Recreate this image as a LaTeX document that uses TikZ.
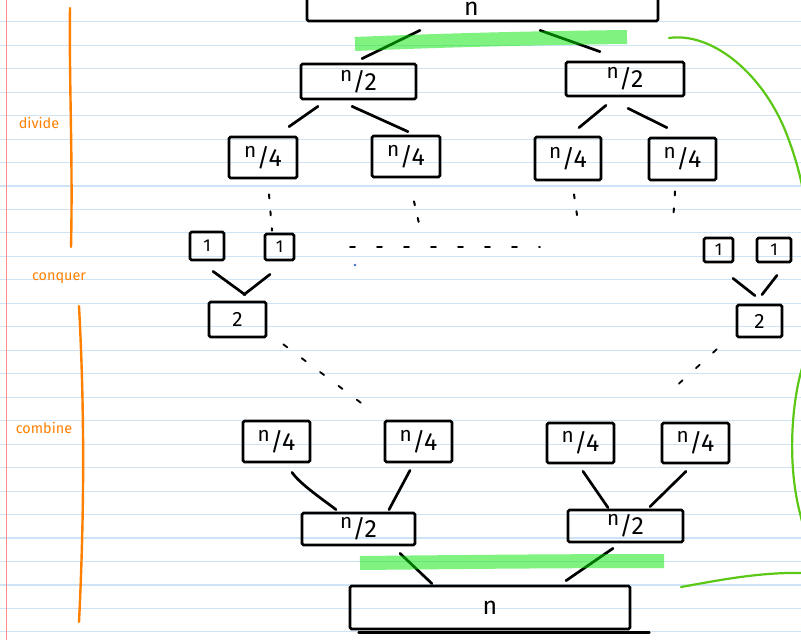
\documentclass[tikz,border=0pt]{standalone}
\usepackage{fontspec}
\setmainfont{Fira Sans}
\usetikzlibrary{calc}
\definecolor{ruleblue}{RGB}{206,228,246}
\definecolor{marginred}{RGB}{255,140,140}
\definecolor{hl}{RGB}{0,230,0}
\definecolor{bracegreen}{RGB}{90,200,20}
\definecolor{orng}{RGB}{255,128,0}
\definecolor{dotblue}{RGB}{60,110,200}
\newcommand{\myfrac}[2]{\textsuperscript{#1}/#2}
\tikzset{
  box/.style={draw=black, line width=2.7pt, rounded corners=1.5pt, inner sep=0pt, font=\Huge},
  conn/.style={line width=2.7pt, line cap=round},
  dotsv/.style={line width=2pt, line cap=round, dash pattern=on 4pt off 13pt},
  dotsh/.style={line width=1.8pt, line cap=round, dash pattern=on 5pt off 22pt},
  dotsd/.style={line width=1.8pt, line cap=round, dash pattern=on 5pt off 18pt},
  hilite/.style={line width=14pt, hl, opacity=0.5},
  tag/.style={text=orng, font=\Large},
  orline/.style={orng, line width=2.4pt, line cap=round},
  bracel/.style={bracegreen, line width=2.2pt, line cap=round},
}
\begin{document}
\begin{tikzpicture}[x=1pt,y=-1pt]
\useasboundingbox (0,0) rectangle (801,640);
\clip (0,0) rectangle (801,640);
\fill[white] (0,0) rectangle (801,640);
% ruled paper
\foreach \k in {0,...,26}{
  \draw[ruleblue, line width=1.1pt] (0,{21.7+23.47*\k}) -- (801,{21.7+23.47*\k});
}
\draw[marginred, line width=1.2pt] (6.5,0) -- (6.5,640);

% orange margin notes
\draw[orline] (70,8) .. controls (69,80) and (73,160) .. (71,247);
\draw[orline] (79,306) .. controls (84,400) and (85,500) .. (79,622);
\node[tag] (tdiv) at (39,123) {divide};
\node[tag] (tcon) at (59,278) {conquer};
\node[tag] (tcom) at (44,428) {combine};

% divide part
\node[box, minimum width=351pt, minimum height=24pt] (nTop) at (482.5,9) {n\hspace*{22pt}};
\node[box, minimum width=115pt, minimum height=35pt] (h1) at (358.5,81.5) {\myfrac{n}{2}};
\node[box, minimum width=118pt, minimum height=34pt] (h2) at (625,79) {\myfrac{n}{2}};
\node[box, minimum width=68pt, minimum height=41pt] (q1) at (263,157.5) {\myfrac{n}{4}};
\node[box, minimum width=68pt, minimum height=41pt] (q2) at (406,156.5) {\myfrac{n}{4}};
\node[box, minimum width=66pt, minimum height=43pt] (q3) at (568,158.5) {\myfrac{n}{4}};
\node[box, minimum width=67pt, minimum height=42pt] (q4) at (682.5,159) {\myfrac{n}{4}};

\draw[conn] ([shift={(-62.5,8)}]nTop.south) -- ([shift={(3.5,-4)}]h1.north);
\draw[conn] ([shift={(57.5,8)}]nTop.south) -- ([shift={(-25,-9)}]h2.north);
\draw[conn] ([shift={(-40.5,6)}]h1.south) -- ([shift={(26,-9)}]q1.north);
\draw[conn] ([shift={(-6.5,6)}]h1.south) -- ([shift={(2,-3)}]q2.north);
\draw[conn] ([shift={(-19,8)}]h2.south) -- ([shift={(11,-8)}]q3.north);
\draw[conn] ([shift={(3,11)}]h2.south) -- ([shift={(-15.5,-9)}]q4.north);

% conquer part
\node[box, font=\LARGE, minimum width=34pt, minimum height=28pt] (o1) at (207,246) {1};
\node[box, font=\LARGE, minimum width=29pt, minimum height=26pt] (o2) at (279.5,247) {1};
\node[box, font=\LARGE, minimum width=29pt, minimum height=24pt] (o3) at (718.5,250) {1};
\node[box, font=\LARGE, minimum width=34pt, minimum height=24pt] (o4) at (774,250) {1};
\node[box, font=\huge, minimum width=57pt, minimum height=35pt] (t1) at (237.5,319.5) {2};
\node[box, font=\huge, minimum width=45pt, minimum height=32pt] (t2) at (759.5,321) {2};

\coordinate (e2) at (420,228);
\coordinate (e3) at (578,222);
\coordinate (e4) at (673,222);
\coordinate (hs) at (350,247);
\coordinate (he) at (540,247);
\draw[dotsv] ([shift={(6,15)}]q1.south) -- ([shift={(-7.5,-2)}]o2.north);
\draw[dotsv] ([shift={(8,23)}]q2.south) -- (e2);
\draw[dotsv] ([shift={(6,13)}]q3.south) -- (e3);
\draw[dotsv] ([shift={(-7.5,10)}]q4.south) -- (e4);
\draw[dotsh] (hs) -- (he);
\fill[dotblue] (355,265) circle (1.4pt);

\draw[conn] ([shift={(6,10)}]o1.south) -- ([shift={(7.5,-6)}]t1.north);
\draw[conn] ([shift={(-9.5,13)}]o2.south) -- ([shift={(6.5,-6)}]t1.north);
\draw[conn] ([shift={(14.5,15)}]o3.south) -- ([shift={(-4.5,-8)}]t2.north);
\draw[conn] ([shift={(3,12)}]o4.south) -- ([shift={(2.5,-9)}]t2.north);

% combine part
\node[box, minimum width=67pt, minimum height=41pt] (Q1) at (276.5,441.5) {\myfrac{n}{4}};
\node[box, minimum width=67pt, minimum height=41pt] (Q2) at (418.5,441.5) {\myfrac{n}{4}};
\node[box, minimum width=67pt, minimum height=40pt] (Q3) at (580.5,443) {\myfrac{n}{4}};
\node[box, minimum width=67pt, minimum height=40pt] (Q4) at (695.5,443) {\myfrac{n}{4}};
\node[box, minimum width=113pt, minimum height=32pt] (H1) at (358.5,529) {\myfrac{n}{2}};
\node[box, minimum width=115pt, minimum height=32pt] (H2) at (625.5,526) {\myfrac{n}{2}};
\node[box, minimum width=280pt, minimum height=43pt] (nBot) at (490,607.5) {n};
\draw[conn] ([shift={(10,2)}]nBot.south west) -- ([shift={(18,2)}]nBot.south east);

\draw[dotsd] ([shift={(16,6)}]t1.south east) -- ([shift={(-52.5,-13)}]Q2.north);
\draw[dotsd] ([shift={(-19,11)}]t2.south west) -- ([shift={(5,-26)}]Q4.north west);

\draw[conn] ([shift={(15.5,9)}]Q1.south) .. controls +(8,12) and +(-10,-8) .. ([shift={(-22.5,-2)}]H1.north);
\draw[conn] ([shift={(-8.5,7)}]Q2.south) -- ([shift={(30.5,-2)}]H1.north);
\draw[conn] ([shift={(2.5,7)}]Q3.south) -- ([shift={(-17.5,-1)}]H2.north);
\draw[conn] ([shift={(-9.5,7)}]Q4.south) -- ([shift={(24.5,-2)}]H2.north);
\draw[conn] ([shift={(41.5,7)}]H1.south) -- ([shift={(-58,-1)}]nBot.north);
\draw[conn] ([shift={(-12.5,5)}]H2.south) -- ([shift={(76,-4)}]nBot.north);

% highlights
\draw[hilite] (355,44) .. controls (450,40) and (540,38) .. (627,37);
\draw[hilite] (360,563) .. controls (460,562) and (560,561) .. (664,561);

% green brace
\draw[bracel] (669,38) .. controls (710,32) and (760,70) .. (785,130) .. controls (795,155) and (800,175) .. (803,190);
\draw[bracel] (803,365) .. controls (795,390) and (790,430) .. (793,470) .. controls (795,495) and (799,510) .. (803,525);
\draw[bracel] (681,587) .. controls (720,580) and (760,572) .. (803,573);
\end{tikzpicture}
\end{document}
